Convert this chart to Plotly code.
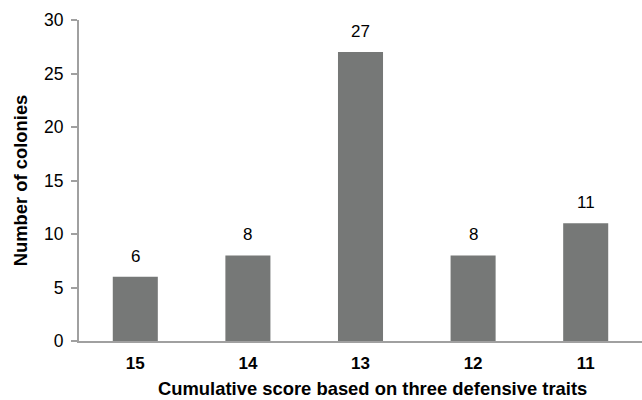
import plotly.graph_objects as go

# Cumulative defensive score per colony group, and colony counts
scores = ["15", "14", "13", "12", "11"]
colonies = [6, 8, 27, 8, 11]
y_ticks = [0, 5, 10, 15, 20, 25, 30]

FONT = "Liberation Sans, Arial, sans-serif"

fig = go.Figure(
    go.Bar(
        x=scores,
        y=colonies,
        marker=dict(color="#767877", line=dict(width=0)),
    )
)

# value labels sitting above each bar (category axis positions are indices)
for i, v in enumerate(colonies):
    fig.add_annotation(
        x=i, y=v, text=str(v), showarrow=False,
        xref="x", yref="y", yanchor="bottom", yshift=9,
        font=dict(family=FONT, size=17, color="#000000"),
    )

# x-axis caption, set slightly right of the plot centre
fig.add_annotation(
    x=0.522, y=0, xref="paper", yref="paper",
    xanchor="center", yanchor="middle", yshift=-47,
    text="<b>Cumulative score based on three defensive traits</b>",
    showarrow=False,
    font=dict(family=FONT, size=18.4, color="#000000"),
)

fig.update_layout(
    width=642,
    height=400,
    margin=dict(l=79, r=0, t=20, b=59),
    paper_bgcolor="white",
    plot_bgcolor="white",
    bargap=0.6,
    showlegend=False,
    font=dict(family=FONT, color="#000000"),
)

fig.update_xaxes(
    type="category",
    categoryorder="array",
    categoryarray=scores,
    showline=True,
    linecolor="#a0a0a0",
    linewidth=2,
    ticks="",
    showgrid=False,
    tickfont=dict(size=17, family=FONT, weight="bold"),
    ticklabelstandoff=6,
)

fig.update_yaxes(
    range=[0, 30],
    tickvals=y_ticks,
    showline=True,
    linecolor="#a0a0a0",
    linewidth=2,
    ticks="outside",
    ticklen=6,
    tickcolor="#a0a0a0",
    tickwidth=2,
    showgrid=False,
    zeroline=False,
    tickfont=dict(size=17.5),
    ticklabelstandoff=4,
    title=dict(text="<b>Number of colonies</b>", font=dict(size=18.4), standoff=12),
)

fig.write_html("out.html")
